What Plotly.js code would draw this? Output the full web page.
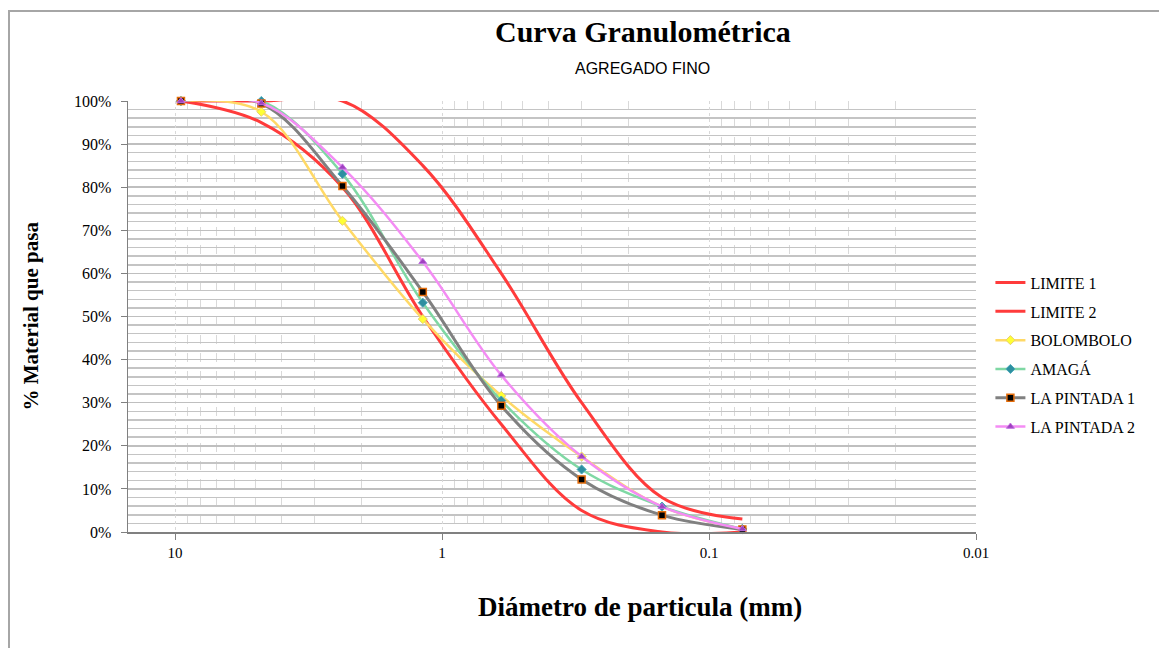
<!DOCTYPE html>
<html>
<head>
<meta charset="utf-8">
<script src="https://cdn.plot.ly/plotly-3.0.1.min.js"></script>
<style>
  html, body { margin: 0; padding: 0; background: #fff; }
  #frame { position: absolute; left: 8px; top: 10px; width: 1160px; height: 650px; border-left: 2px solid #a6a6a6; border-top: 2px solid #a6a6a6; }
  #chart { position: absolute; left: 0; top: 0; width: 1159px; height: 648px; }
</style>
</head>
<body>
<div id="frame"></div>
<div id="chart"></div>
<script>
// Sieve openings (mm)
const sieves = [9.5, 4.75, 2.36, 1.18, 0.6, 0.3, 0.15, 0.075];

// % passing
const limite1    = [100, 95, 80, 50, 25, 5, 0, 0];
const limite2    = [100, 100, 100, 85, 60, 30, 8, 3];
const bolombolo  = [100, 97.5, 72.2, 49.4, 31.6, 17.5, 5.9, 0.7];
const amaga      = [100, 100, 83.1, 53.2, 30.5, 14.5, 5.9, 0.7];
const laPintada1 = [100, 99.4, 80.3, 55.7, 29.3, 12.2, 3.9, 0.6];
const laPintada2 = [100, 99.5, 84.6, 62.7, 36.4, 17.5, 5.9, 0.7];

const seriesNames = ['LIMITE 1', 'LIMITE 2', 'BOLOMBOLO', 'AMAGÁ', 'LA PINTADA 1', 'LA PINTADA 2'];

// x tick labels
const xTickVals = [10, 1, 0.1, 0.01];
const xTickText = ['10', '1', '0.1', '0.01'];
const xMinorVals = [];
[1, 0.1, 0.01].forEach(d => { for (let k = 2; k <= 9; k++) xMinorVals.push(+(k * d).toFixed(4)); });

const serif = 'Liberation Serif, Times New Roman, serif';

function line(name, y, color, width, marker) {
  const t = {
    x: sieves, y: y, name: name, type: 'scatter',
    mode: marker ? 'lines+markers' : 'lines',
    line: { color: color, width: width, shape: 'spline', smoothing: 1 },
    legendgroup: name,
    cliponaxis: false
  };
  if (marker) t.marker = marker;
  return t;
}

const data = [
  line(seriesNames[0], limite1, '#ff3b3b', 3),
  line(seriesNames[1], limite2, '#ff3b3b', 3),
  line(seriesNames[2], bolombolo, '#ffd966', 2.5, { symbol: 'diamond', size: 7, color: '#ffff33', line: { color: '#e6d070', width: 1 } }),
  line(seriesNames[3], amaga, '#7fd8a4', 2.5, { symbol: 'diamond', size: 7, color: '#2e8fa0', line: { color: '#4aa8b8', width: 1 } }),
  line(seriesNames[4], laPintada1, '#808080', 3, { symbol: 'square', size: 7, color: '#000000', line: { color: '#e46c0a', width: 1.5 } }),
  line(seriesNames[5], laPintada2, '#f48cf4', 2.5, { symbol: 'triangle-up', size: 7, color: '#a040c0', line: { color: '#c070e0', width: 1 } })
];

const layout = {
  width: 1159, height: 648,
  margin: { l: 128, r: 183, t: 101, b: 116 },
  paper_bgcolor: 'rgba(0,0,0,0)',
  plot_bgcolor: '#ffffff',
  showlegend: true,
  font: { family: serif, color: '#000' },
  xaxis: {
    type: 'log',
    range: [Math.log10(15), -2],
    tickmode: 'array', tickvals: xTickVals, ticktext: xTickText,
    ticks: 'outside', ticklen: 6, tickcolor: '#808080',
    showgrid: true, gridcolor: '#d9d9d9', gridwidth: 1, griddash: 'dot',
    minor: { tickmode: 'array', tickvals: xMinorVals, showgrid: true, gridcolor: '#d9d9d9', gridwidth: 1, griddash: 'dash', ticks: '' },
    showline: true, linecolor: '#808080', linewidth: 1.5,
    tickfont: { family: serif, size: 15, color: '#000' },
    zeroline: false
  },
  yaxis: {
    range: [0, 100],
    tickmode: 'linear', tick0: 0, dtick: 10,
    ticksuffix: '%',
    ticks: 'outside', ticklen: 6, tickcolor: '#808080',
    ticklabelstandoff: 6,
    showgrid: true, gridcolor: '#bfbfbf', gridwidth: 1.5,
    minor: { dtick: 2, showgrid: true, gridcolor: '#c4c4c4', gridwidth: 1.5, ticks: '' },
    showline: true, linecolor: '#808080', linewidth: 1.5,
    tickfont: { family: serif, size: 16, color: '#000' },
    zeroline: false
  },
  legend: {
    x: 1.017, y: 0.618, xanchor: 'left', yanchor: 'top',
    font: { family: serif, size: 16, color: '#000' },
    tracegroupgap: 5,
    traceorder: 'grouped',
    bgcolor: 'rgba(0,0,0,0)'
  },
  annotations: [
    { text: '<b>Curva Granulométrica</b>', xref: 'paper', yref: 'paper', x: 0.607, y: 1, yshift: 70, xanchor: 'center', yanchor: 'middle', showarrow: false, font: { family: serif, size: 30, color: '#000' } },
    { text: 'AGREGADO FINO', xref: 'paper', yref: 'paper', x: 0.607, y: 1, yshift: 33, xanchor: 'center', yanchor: 'middle', showarrow: false, font: { family: 'Liberation Sans Narrow, Liberation Sans, sans-serif', size: 16, color: '#000' } },
    { text: '<b>Diámetro de particula (mm)</b>', xref: 'paper', yref: 'paper', x: 0.604, y: 0, yshift: -75, xanchor: 'center', yanchor: 'middle', showarrow: false, font: { family: serif, size: 27, color: '#000' } },
    { text: '<b>% Material que pasa</b>', xref: 'paper', yref: 'paper', x: 0, xshift: -98, y: 0.5, textangle: -90, xanchor: 'center', yanchor: 'middle', showarrow: false, font: { family: serif, size: 21, color: '#000' } }
  ]
};

Plotly.newPlot('chart', data, layout, { displayModeBar: false, staticPlot: true });
</script>
</body>
</html>
